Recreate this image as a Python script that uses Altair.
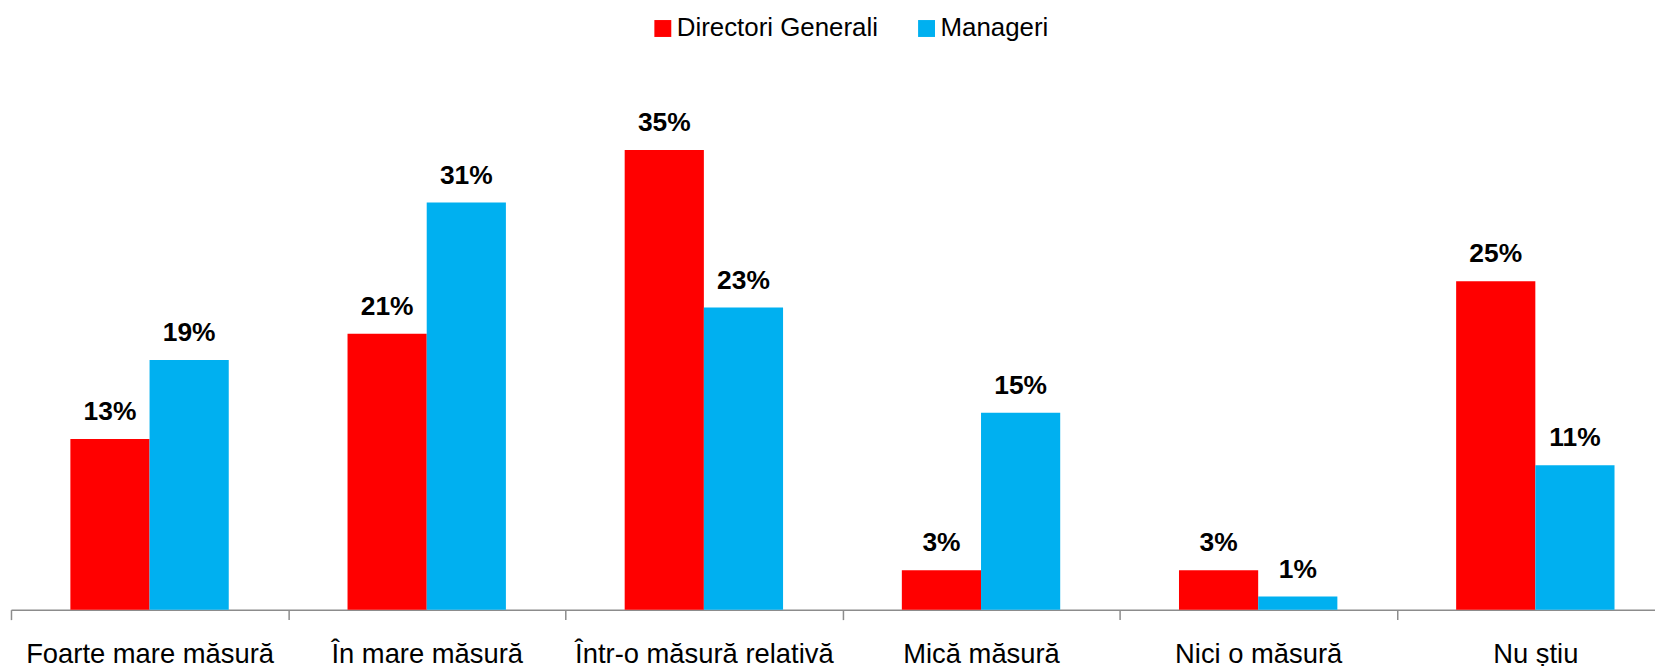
import altair as alt
import pandas as pd

categories = ["Foarte mare măsură", "În mare măsură", "Într-o măsură relativă",
              "Mică măsură", "Nici o măsură", "Nu știu"]
series = ["Directori Generali", "Manageri"]
dg_values = [13, 21, 35, 3, 3, 25]
mg_values = [19, 31, 23, 15, 1, 11]
colors = ["#FF0000", "#00B0F0"]

rows = []
for c, a, b in zip(categories, dg_values, mg_values):
    rows.append({"cat": c, "serie": series[0], "val": a, "label": f"{a}%"})
    rows.append({"cat": c, "serie": series[1], "val": b, "label": f"{b}%"})
df = pd.DataFrame(rows)

FONT = "Liberation Sans, Arial, sans-serif"

x = alt.X("cat:N", sort=categories, title=None,
          scale=alt.Scale(range=[0, 1671], paddingInner=0, paddingOuter=0),
          axis=alt.Axis(labelAngle=0, labelFont=FONT, labelFontSize=27.5, labelColor="#000000",
                        domainColor="#8C8C8C", domainWidth=1.5, tickColor="#8C8C8C",
                        tickWidth=1.5, tickSize=10, tickBand="extent", labelPadding=21,
                        labelLimit=500, labelOverlap=False))
xoff = alt.XOffset("serie:N", sort=series,
                   scale=alt.Scale(paddingInner=0, paddingOuter=0.75))
y = alt.Y("val:Q", scale=alt.Scale(domain=[0, 40]), axis=None)
color = alt.Color("serie:N", sort=series,
                  scale=alt.Scale(domain=series, range=colors),
                  legend=alt.Legend(title=None, orient="none", legendX=642, legendY=-69,
                                    direction="horizontal", symbolType="square",
                                    symbolSize=289, symbolStrokeWidth=0,
                                    labelFont=FONT, labelFontSize=26, labelColor="#000000",
                                    labelLimit=500,
                                    columnPadding=35, labelOffset=1, padding=0))

bars = alt.Chart(df).mark_bar().encode(x=x, xOffset=xoff, y=y, color=color)
texts = alt.Chart(df).mark_text(dy=-19, baseline="alphabetic", font=FONT, fontSize=26.5,
                                fontWeight="bold", color="#000000").encode(
    x=x, xOffset=xoff, y=y, text="label:N")

chart = (bars + texts).properties(
    width=1652, height=528,
    padding={"left": 3, "top": 75, "right": 0, "bottom": 55},
    autosize=alt.AutoSizeParams(type="none"),
).configure_view(stroke=None)

chart.save("out.html", embed_options={"renderer": "svg", "actions": False})
